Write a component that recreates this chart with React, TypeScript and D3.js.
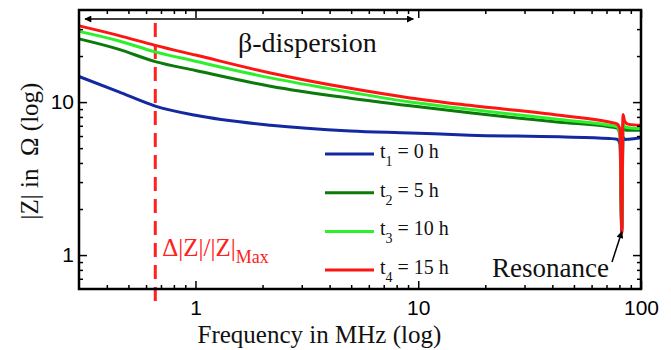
import {useEffect, useRef} from 'react';
import * as d3 from 'd3';

// frequency in MHz and |Z| in Ohm
const freqs = [0.3, 0.45, 0.66, 1, 2.17, 4.95, 9.2, 17, 43, 72, 78, 80.5, 82, 83, 84.5, 88, 100];
const zT1 = [14.7, 11.7, 9.42, 8.2, 7.06, 6.48, 6.29, 6.08, 5.93, 5.78, 5.72, 5.3, 1.4, 5.9, 5.7, 5.72, 5.84];
const zT2 = [25.9, 22.2, 18.4, 16.1, 12.7, 10.6, 9.45, 8.51, 7.38, 6.9, 6.75, 6.1, 1.5, 7.0, 6.6, 6.55, 6.55];
const zT3 = [29.0, 25.2, 21.3, 18.5, 14.4, 11.6, 10.0, 8.97, 7.69, 7.06, 6.9, 6.3, 1.5, 7.4, 6.9, 6.8, 6.72];
const zT4 = [31.5, 27.3, 23.5, 20.3, 15.5, 12.3, 10.65, 9.52, 8.2, 7.41, 7.2, 6.6, 1.38, 8.3, 7.5, 7.15, 7.05];

const seriesNames = [['1', '0'], ['2', '5'], ['3', '10'], ['4', '15']];
const seriesColors = ['#1428a0', '#0b7a0b', '#2cf02c', '#ff1414'];

const xMajor = [1, 10, 100];
const xMinor = [0.4, 0.5, 0.6, 0.7, 0.8, 0.9, 2, 3, 4, 5, 6, 7, 8, 9, 20, 30, 40, 50, 60, 70, 80, 90];
const yMajor = [1, 10];
const yMinor = [0.7, 0.8, 0.9, 2, 3, 4, 5, 6, 7, 8, 9, 20, 30];

const markerFreq = 0.66;

const W = 671, H = 350;
const margin = {left: 79, top: 10, right: 30, bottom: 61};

const SERIF = "'Liberation Serif', 'Times New Roman', serif";
const SANS = "'Liberation Sans', Arial, sans-serif";

export default function App() {
    const svgRef = useRef(null);

    useEffect(() => {
        const svg = d3.select(svgRef.current);
        svg.selectAll('*').remove();
        const bw = W - margin.left - margin.right;
        const bh = H - margin.top - margin.bottom;

        const x = d3.scaleLog().domain([0.3, 100]).range([0, bw]);
        const y = d3.scaleLog().domain([0.6, 40]).range([bh, 0]);

        const defs = svg.append('defs');
        defs.append('marker').attr('id', 'ah').attr('viewBox', '0 0 10 10')
            .attr('refX', 9).attr('refY', 5).attr('markerWidth', 10).attr('markerHeight', 7)
            .attr('markerUnits', 'userSpaceOnUse').attr('orient', 'auto-start-reverse')
            .append('path').attr('d', 'M0,0 L10,5 L0,10 z').attr('fill', '#000');

        const g = svg.append('g').attr('transform', `translate(${margin.left},${margin.top})`);

        // dashed marker line
        g.append('line')
            .attr('x1', x(markerFreq)).attr('x2', x(markerFreq))
            .attr('y1', 13).attr('y2', bh + 20)
            .attr('stroke', '#ff2020').attr('stroke-width', 3)
            .attr('stroke-dasharray', '14,8');

        // curves
        const allSeries = [zT1, zT2, zT3, zT4];
        const line = d3.line<number>()
            .x((d, i) => x(freqs[i]))
            .y(d => y(d))
            .curve(d3.curveMonotoneX);
        allSeries.forEach((s, k) => {
            g.append('path').datum(s)
                .attr('fill', 'none')
                .attr('stroke', seriesColors[k])
                .attr('stroke-width', 3)
                .attr('stroke-linejoin', 'round')
                .attr('d', line);
        });

        // axes with inward ticks
        const styleAxis = (sel) => {
            sel.select('.domain').remove();
            sel.selectAll('line').attr('stroke', '#000').attr('stroke-width', 1.5);
            sel.selectAll('text').style('font-family', SANS)
                .attr('font-size', 21).attr('fill', '#000');
        };
        g.append('g').attr('transform', `translate(0,${bh})`)
            .call(d3.axisBottom(x).tickValues(xMajor).tickSize(-8).tickPadding(11).tickFormat(d3.format('d')))
            .call(styleAxis);
        g.append('g').attr('transform', `translate(0,${bh})`)
            .call(d3.axisBottom(x).tickValues(xMinor).tickSize(-4).tickFormat(() => ''))
            .call(styleAxis);
        g.append('g')
            .call(d3.axisTop(x).tickValues(xMajor).tickSize(-8).tickFormat(() => ''))
            .call(styleAxis);
        g.append('g')
            .call(d3.axisTop(x).tickValues(xMinor).tickSize(-4).tickFormat(() => ''))
            .call(styleAxis);
        g.append('g')
            .call(d3.axisLeft(y).tickValues(yMajor).tickSize(-8).tickPadding(5).tickFormat(d3.format('d')))
            .call(styleAxis);
        g.append('g')
            .call(d3.axisLeft(y).tickValues(yMinor).tickSize(-4).tickFormat(() => ''))
            .call(styleAxis);
        g.append('g').attr('transform', `translate(${bw},0)`)
            .call(d3.axisRight(y).tickValues(yMajor).tickSize(-8).tickFormat(() => ''))
            .call(styleAxis);
        g.append('g').attr('transform', `translate(${bw},0)`)
            .call(d3.axisRight(y).tickValues(yMinor).tickSize(-4).tickFormat(() => ''))
            .call(styleAxis);

        g.append('rect').attr('width', bw).attr('height', bh)
            .attr('fill', 'none').attr('stroke', '#000').attr('stroke-width', 2.5);

        // beta-dispersion arrow
        g.append('line')
            .attr('x1', 6).attr('x2', x(9.5))
            .attr('y1', 9).attr('y2', 9)
            .attr('stroke', '#000').attr('stroke-width', 1.5)
            .attr('marker-start', 'url(#ah)').attr('marker-end', 'url(#ah)');
        g.append('text').attr('x', 159).attr('y', 42)
            .style('font-family', SERIF).attr('font-size', 28).attr('fill', '#111')
            .text('β-dispersion');

        // delta label
        const dl = g.append('text').attr('x', x(markerFreq) + 7).attr('y', 246)
            .style('font-family', SERIF).attr('font-size', 25).attr('fill', '#ff2020');
        dl.append('tspan').text('Δ|Z|/|Z|');
        dl.append('tspan').attr('dy', 7).attr('font-size', 18).text('Max');

        // resonance label
        g.append('text').attr('x', 413).attr('y', 267)
            .style('font-family', SERIF).attr('font-size', 27).attr('fill', '#111')
            .text('Resonance');
        g.append('line')
            .attr('x1', 533).attr('y1', 252).attr('x2', x(82)).attr('y2', y(1.42))
            .attr('stroke', '#000').attr('stroke-width', 1.5)
            .attr('marker-end', 'url(#ah)');

        // legend
        seriesNames.forEach(([sub, hrs], k) => {
            const ly = 144 + k * 38.7;
            g.append('line').attr('x1', 246).attr('x2', 295).attr('y1', ly).attr('y2', ly)
                .attr('stroke', seriesColors[k]).attr('stroke-width', 3);
            const t = g.append('text').attr('x', 301).attr('y', ly + 4)
                .style('font-family', SERIF).attr('font-size', 20).attr('fill', '#111');
            t.append('tspan').text('t');
            t.append('tspan').attr('dy', 8).attr('font-size', 14).text(sub);
            t.append('tspan').attr('dy', -8).text(` = ${hrs} h`);
        });

        // axis titles
        svg.append('text')
            .attr('x', margin.left + x(3.6)).attr('y', 343)
            .attr('text-anchor', 'middle')
            .style('font-family', SERIF).attr('font-size', 25).attr('fill', '#111')
            .text('Frequency in MHz (log)');
        svg.append('text')
            .attr('transform', 'translate(38,151) rotate(-90)')
            .attr('text-anchor', 'middle')
            .style('font-family', SERIF).attr('font-size', 25).attr('fill', '#111')
            .style('white-space', 'pre')
            .text('|Z| in  Ω (log)');
    }, []);

    return (
        <svg ref={svgRef} width={W} height={H}
             style={{position: 'absolute', left: 0, top: 0, background: '#fff'}}></svg>
    );
}
